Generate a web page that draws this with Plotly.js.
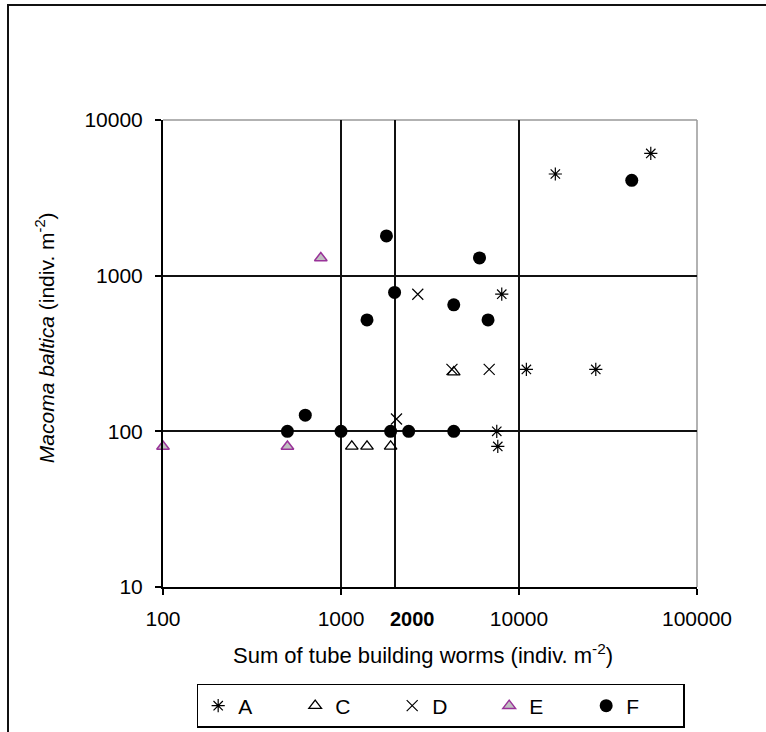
<!DOCTYPE html>
<html>
<head>
<meta charset="utf-8">
<script src="https://cdn.plot.ly/plotly-3.0.1.min.js"></script>
<style>
  html, body { margin: 0; padding: 0; background: #fff; }
  #wrap { position: relative; width: 766px; height: 732px; overflow: hidden; }
  #chart { position: absolute; left: 0; top: 0; width: 766px; height: 732px; }
  #frame { position: absolute; left: 7px; top: 4px; width: 800px; height: 800px;
           border-left: 2px solid #111; border-top: 2px solid #111; pointer-events: none; }
</style>
</head>
<body>
<div id="wrap">
  <div id="chart"></div>
  <div id="frame"></div>
</div>
<script>
// ---- data ----
const seriesNames = ["A", "C", "D", "E", "F"];

const A_x = [16000, 55000, 8000, 11000, 27000, 7500, 7600];
const A_y = [4500, 6100, 760, 250, 250, 100, 80];

const C_x = [1150, 1400, 1900, 4300];
const C_y = [80, 80, 80, 240];

const D_x = [2700, 4200, 6800, 2050];
const D_y = [760, 250, 250, 120];

const E_x = [100, 500, 770];
const E_y = [80, 80, 1300];

const F_x = [1800, 2000, 1400, 4300, 6700, 6000, 43000, 630, 500, 1000, 1900, 2400, 4300];
const F_y = [1800, 780, 520, 650, 520, 1300, 4100, 127, 100, 100, 100, 100, 100];

const xTickVals = [100, 1000, 10000, 100000];
const xTickText = ["100", "1000", "10000", "100000"];
const yTickVals = [10, 100, 1000, 10000];
const yTickText = ["10", "100", "1000", "10000"];
const xGridVals = [1000, 2000, 10000];
const yGridVals = [100, 1000];
const xMarkedValue = 2000;
const xMarkedLabel = "2000";

const xTitle = "Sum of tube building worms (indiv. m<sup>-2</sup>)";
const yTitle = "<i>Macoma baltica</i> (indiv. m<sup>-2</sup>)";

// ---- plot ----
const FONT = "Liberation Sans, Arial, sans-serif";

const traces = [
  { x: A_x, y: A_y, name: seriesNames[0], type: "scatter", mode: "markers", cliponaxis: false,
    marker: { symbol: "asterisk-open", size: 11, color: "#000", line: { color: "#000", width: 1.2 } } },
  { x: C_x, y: C_y, name: seriesNames[1], type: "scatter", mode: "markers", cliponaxis: false,
    marker: { symbol: "triangle-up-open", size: 11, color: "#000", line: { color: "#000", width: 1.3 } } },
  { x: D_x, y: D_y, name: seriesNames[2], type: "scatter", mode: "markers", cliponaxis: false,
    marker: { symbol: "x-thin-open", size: 11, color: "#000", line: { color: "#000", width: 1.2 } } },
  { x: E_x, y: E_y, name: seriesNames[3], type: "scatter", mode: "markers", cliponaxis: false,
    marker: { symbol: "triangle-up", size: 11, color: "#c0c0c0", line: { color: "#993399", width: 1.5 } } },
  { x: F_x, y: F_y, name: seriesNames[4], type: "scatter", mode: "markers", cliponaxis: false,
    marker: { symbol: "circle", size: 13, color: "#000", line: { width: 0 } } }
];

const layout = {
  width: 766, height: 732,
  margin: { l: 163, r: 69, t: 120, b: 145, pad: 0, autoexpand: false },
  paper_bgcolor: "#fff", plot_bgcolor: "#fff",
  font: { family: FONT, size: 21, color: "#000" },
  showlegend: true,
  xaxis: {
    type: "log", range: [2, 5], automargin: false,
    tickvals: xTickVals, ticktext: xTickText,
    ticks: "outside", ticklen: 6, tickwidth: 2, tickcolor: "#000",
    ticklabelstandoff: 6,
    showline: true, linecolor: "#000", linewidth: 2,
    showgrid: false, zeroline: false,
    minor: { tickvals: xGridVals, showgrid: true, gridcolor: "#111", gridwidth: 2, ticks: "" },
    tickfont: { family: FONT, size: 21, color: "#000" }
  },
  yaxis: {
    type: "log", range: [1, 4], automargin: false,
    tickvals: yTickVals, ticktext: yTickText,
    ticks: "outside", ticklen: 6, tickwidth: 2, tickcolor: "#000",
    ticklabelstandoff: 8,
    showline: true, linecolor: "#000", linewidth: 2,
    showgrid: false, zeroline: false,
    minor: { tickvals: yGridVals, showgrid: true, gridcolor: "#111", gridwidth: 2, ticks: "" },
    tickfont: { family: FONT, size: 21, color: "#000" }
  },
  shapes: [
    { type: "line", xref: "paper", yref: "paper", x0: 0, x1: 1, y0: 1, y1: 1,
      line: { color: "#999", width: 1.5 }, layer: "below" },
    { type: "line", xref: "paper", yref: "paper", x0: 1, x1: 1, y0: 0, y1: 1,
      line: { color: "#999", width: 1.5 }, layer: "below" }
  ],
  annotations: [
    { text: xTitle, xref: "paper", yref: "paper", x: 0.487, y: -0.1435,
      xanchor: "center", yanchor: "middle", showarrow: false,
      font: { family: FONT, size: 22, color: "#000" } },
    { text: yTitle, xref: "paper", yref: "paper", x: -0.221, y: 0.535,
      xanchor: "center", yanchor: "middle", showarrow: false, textangle: -90,
      font: { family: FONT, size: 21, color: "#000" } },
    { text: "<b>" + xMarkedLabel + "</b>", xref: "x", yref: "paper",
      x: Math.log10(xMarkedValue), xshift: 18, y: -0.0685,
      xanchor: "center", yanchor: "middle", showarrow: false,
      font: { family: FONT, size: 20, color: "#000" } }
  ],
  legend: {
    orientation: "h", xref: "paper", yref: "paper",
    x: 0.52, xanchor: "center", y: -0.2077, yanchor: "top",
    bordercolor: "#000", borderwidth: 1.5, bgcolor: "#fff",
    font: { family: FONT, size: 21, color: "#000" },
    entrywidth: 52, entrywidthmode: "pixels",
    itemwidth: 30, traceorder: "normal"
  }
};

Plotly.newPlot("chart", traces, layout, { staticPlot: true, displayModeBar: false });
</script>
</body>
</html>
